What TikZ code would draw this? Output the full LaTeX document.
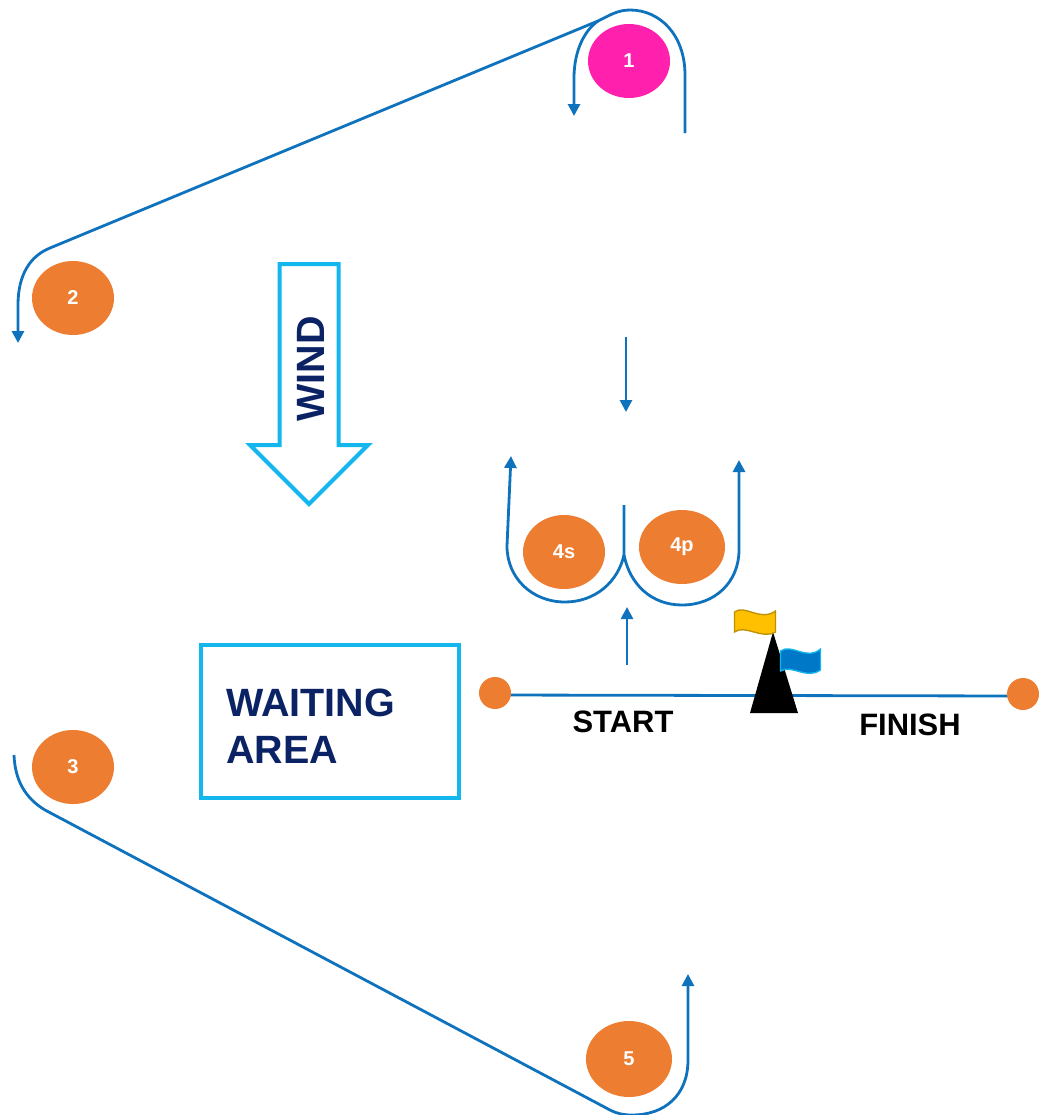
\documentclass[tikz,border=0pt]{standalone}
\usepackage{fontspec}
\setmainfont{Liberation Sans}
\usetikzlibrary{arrows.meta,shapes.geometric}
\definecolor{routeblue}{HTML}{0F72BD}
\definecolor{markorange}{HTML}{ED7D31}
\definecolor{markpink}{HTML}{FF20AD}
\definecolor{boxcyan}{HTML}{14B6EE}
\definecolor{navy}{HTML}{0B2265}
\definecolor{flagyellow}{HTML}{FFC000}
\definecolor{flagedge}{HTML}{BF9000}
\definecolor{flagblue}{HTML}{0078C8}
\tikzset{
  x=0.75pt,y=-0.75pt,
  buoy/.style={ellipse,fill=markorange,minimum width=82*0.75pt,minimum height=74*0.75pt,inner sep=0pt,text=white,font=\fontsize{15}{17}\selectfont\bfseries},
  route/.style={draw=routeblue,line width=2.1pt,line cap=butt},
  routearrow/.style={route,-{Triangle[length=9pt,width=9pt]}},
  endbuoy/.style={circle,fill=markorange,minimum size=32*0.75pt,inner sep=0pt},
  label/.style={font=\fontsize{23.2}{26}\selectfont\bfseries,text=black,inner sep=0pt},
  bigtext/.style={font=\fontsize{29.6}{35}\selectfont\bfseries,text=navy,inner sep=0pt}
}
\begin{document}
\begin{tikzpicture}
\useasboundingbox (0,0) rectangle (1039,1115);
% named path points
\coordinate (r1start) at (685,133);
\coordinate (r1join) at (598,21);
\coordinate (r2in) at (50,248);
\coordinate (r2end) at (18,343);
\coordinate (r1end) at (574,116);
\coordinate (r3start) at (14,755);
\coordinate (r3out) at (45,810);
\coordinate (r5in) at (610,1110);
\coordinate (r5end) at (688,974);
\coordinate (c0) at (624,505);
\coordinate (c1) at (624,555);
\coordinate (cL) at (511,456);
\coordinate (cR) at (739,460);
\coordinate (dA) at (626,337);
\coordinate (dB) at (626,412);
\coordinate (uA) at (627,665);
\coordinate (uB) at (627,607);
\coordinate (lineL) at (495,695);
\coordinate (lineR) at (1023,696);
% start and finish line, under the pins
\draw[route] (lineL) -- (lineR);
% marks
\node[buoy,fill=markpink] (m1) at (629,61) {1};
\node[buoy] (m2) at (73,298) {2};
\node[buoy] (m3) at (73,767) {3};
\node[buoy,minimum width=86*0.75pt,minimum height=76*0.75pt] (m5) at (629,1059) {5};
\node[buoy] (m4s) at (564,552) {4s};
\node[buoy,minimum width=86*0.75pt] (m4p) at (682,547) {4p};
\node[endbuoy] (pinL) at (495,693) {};
\node[endbuoy] (pinR) at (1023,694) {};
% route lines
\draw[routearrow] (r1start) -- (685,75)
  .. controls (685,35) and (660,10) .. (630,10)
  .. controls (618,10) and (610,15) .. (r1join)
  -- (r2in)
  .. controls (30,256) and (18,275) .. (18,305) -- (r2end);
\draw[routearrow] (r1join) .. controls (585,30) and (574,50) .. (574,78) -- (r1end);
\draw[routearrow] (r3start) .. controls (15,780) and (25,798) .. (r3out)
  -- (r5in) .. controls (618,1114) and (624,1115) .. (632,1115)
  .. controls (665,1115) and (688,1095) .. (688,1060) -- (r5end);
\draw[routearrow] (dA) -- (dB);
\draw[routearrow] (uA) -- (uB);
\draw[routearrow] (c1) .. controls (618,582) and (595,602) .. (565,602)
  .. controls (532,602) and (507,578) .. (507,546) -- (cL);
\draw[routearrow] (c0) -- (c1) .. controls (630,585) and (652,605) .. (682,605)
  .. controls (715,605) and (739,582) .. (739,550) -- (cR);
% committee boat and flags
\fill[black] (750,713) -- (798,713) -- (773,632) -- cycle;
\draw[draw=flagedge,fill=flagyellow,line width=1pt] (734.5,632)
  -- (734.5,612) .. controls (745,604) and (760,622) .. (775.5,611)
  -- (775.5,632) .. controls (762,640) and (745,624) .. (734.5,632) -- cycle;
\draw[draw=boxcyan,fill=flagblue,line width=1pt] (780.5,671)
  -- (780.5,651) .. controls (792,643) and (806,661) .. (820.5,649)
  -- (820.5,670) .. controls (806,680) and (792,664) .. (780.5,671) -- cycle;
% wind arrow
\draw[draw=boxcyan,line width=3pt,line join=miter] (279.5,264) -- (338.5,264) -- (338.5,445)
  -- (368,445) -- (309,504) -- (250,445) -- (279.5,445) -- cycle;
\node[bigtext,rotate=90] (wind) at (311,369) {WIND};
% waiting area
\node[draw=boxcyan,line width=3pt,minimum width=258*0.75pt,minimum height=153*0.75pt,inner sep=0pt] (wait) at (330,721.5) {};
\node[bigtext,align=left,anchor=west] (waittxt) at (226,726) {WAITING\\AREA};
% labels
\node[label] (start) at (623,722) {START};
\node[label] (finish) at (910,725) {FINISH};
\end{tikzpicture}
\end{document}
